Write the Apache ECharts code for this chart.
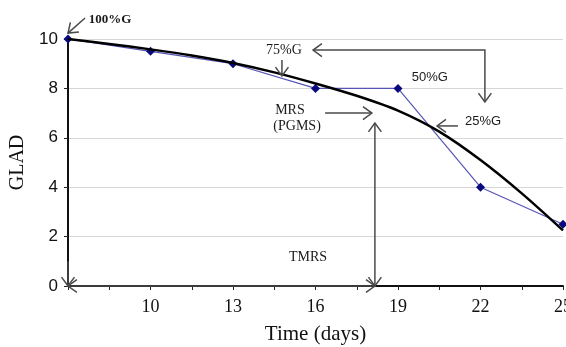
<!DOCTYPE html>
<html><head><meta charset="utf-8">
<script src="https://cdn.jsdelivr.net/npm/echarts@6/dist/echarts.min.js"></script>
<style>html,body{margin:0;padding:0;background:#fff}#c{width:566px;height:347px}</style>
</head><body><div id="c"></div>
<script>
// Observed GLAD values
const days = [7, 10, 13, 16, 19, 22, 25];
const glad = [10, 9.5, 9, 8, 8, 4, 2.5];
// Trend curve
const trendDays = [7, 8.5, 10, 11.5, 13, 14.5, 16, 17.5, 19, 20.5, 22, 23.5, 25];
const trendGlad = [10, 9.8, 9.58, 9.33, 9.03, 8.65, 8.2, 7.7, 7.1, 6.25, 5.1, 3.75, 2.25];
const xTickLabels = [10, 13, 16, 19, 22, 25];
const yTicks = [0, 2, 4, 6, 8, 10];

// Annotation arrows in data coordinates: polyline points, arrowhead at start / end
const arrows = [
  {pts: [[7.62, 10.85], [7.0, 10.24]], s: false, e: true},
  {pts: [[14.78, 9.15], [14.78, 8.5]], s: false, e: true},
  {pts: [[15.91, 9.55], [22.16, 9.55], [22.16, 7.45]], s: true, e: true},
  {pts: [[21.18, 6.48], [20.42, 6.48]], s: false, e: true},
  {pts: [[16.35, 7.0], [18.05, 7.0]], s: false, e: true},
  {pts: [[18.16, 0], [18.16, 6.6]], s: true, e: true},
  {pts: [[7, 0], [18.16, 0]], s: true, e: true},
  {pts: [[7, 1], [7, 0]], s: false, e: true}
];
const labels = [
  {t: '100%G', x: 7.75, y: 10.77, a: 'left', f: 'serifb'},
  {t: '75%G', x: 14.85, y: 9.55, a: 'center', f: 'serif'},
  {t: '50%G', x: 20.16, y: 8.46, a: 'center', f: 'sans'},
  {t: '25%G', x: 21.44, y: 6.68, a: 'left', f: 'sans'},
  {t: 'MRS', x: 15.07, y: 7.13, a: 'center', f: 'serif'},
  {t: '(PGMS)', x: 15.33, y: 6.48, a: 'center', f: 'serif'},
  {t: 'TMRS', x: 15.73, y: 1.17, a: 'center', f: 'serif'}
];

const chart = echarts.init(document.getElementById('c'));
const SERIF = '"Liberation Serif", "DejaVu Serif", serif';
const SANS = '"Liberation Sans", Arial, sans-serif';
const FONTS = {serif: '14px ' + SERIF, serifb: 'bold 13px ' + SERIF, sans: '13px ' + SANS};

function head(p, q, len) {
  const dx = p[0] - q[0], dy = p[1] - q[1];
  const L = Math.hypot(dx, dy) || 1;
  const ux = dx / L, uy = dy / L;
  const ang = Math.PI / 5;
  const c = Math.cos(ang), s = Math.sin(ang);
  const a1 = [p[0] - len * (ux * c - uy * s), p[1] - len * (uy * c + ux * s)];
  const a2 = [p[0] - len * (ux * c + uy * s), p[1] - len * (uy * c - ux * s)];
  return {type: 'polyline', shape: {points: [a1, p, a2]}, style: {stroke: '#4a4a4a', lineWidth: 1.5, fill: null}};
}

chart.setOption({
  animation: false,
  grid: {left: 68, right: 3, top: 39, bottom: 61, containLabel: false, outerBoundsMode: 'none'},
  xAxis: {
    type: 'value', min: 7, max: 25, interval: 1.5,
    name: 'Time (days)', nameLocation: 'middle', nameGap: 38,
    nameTextStyle: {fontFamily: SERIF, fontSize: 21, color: '#111'},
    axisLine: {show: true, lineStyle: {color: '#111', width: 2}},
    axisTick: {show: true, length: 4, lineStyle: {color: '#222', width: 1}},
    axisLabel: {
      fontFamily: SERIF, fontSize: 18, color: '#111', margin: 12, showMaxLabel: true,
      formatter: v => (xTickLabels.indexOf(Math.round(v * 100) / 100) >= 0 ? String(Math.round(v)) : '')
    },
    splitLine: {show: false}
  },
  yAxis: {
    type: 'value', min: yTicks[0], max: yTicks[yTicks.length - 1], interval: 2,
    name: 'GLAD', nameLocation: 'middle', nameGap: 40, nameRotate: 90,
    nameTextStyle: {fontFamily: SERIF, fontSize: 20, color: '#111'},
    axisLine: {show: true, lineStyle: {color: '#111', width: 2}},
    axisTick: {show: true, length: 4, lineStyle: {color: '#222', width: 1}},
    axisLabel: {fontFamily: SANS, fontSize: 17, color: '#111', margin: 10},
    splitLine: {show: true, lineStyle: {color: '#d6d6d6', width: 1}}
  },
  series: [
    {
      type: 'line', data: days.map((d, i) => [d, glad[i]]),
      symbol: 'diamond', symbolSize: 9,
      itemStyle: {color: '#0a0a80'},
      lineStyle: {color: '#5555b5', width: 1.2},
      z: 3
    },
    {
      type: 'line', data: trendDays.map((d, i) => [d, trendGlad[i]]),
      smooth: 0.3, showSymbol: false, symbol: 'none',
      lineStyle: {color: '#000', width: 2.5},
      z: 4
    },
    {
      type: 'custom', clip: false, z: 5,
      data: arrows.map((a, i) => [i]),
      renderItem: function (params, api) {
        const a = arrows[api.value(0)];
        const P = a.pts.map(p => api.coord(p));
        const children = [{type: 'polyline', shape: {points: P}, style: {stroke: '#4a4a4a', lineWidth: 1.5, fill: null}}];
        if (a.e) children.push(head(P[P.length - 1], P[P.length - 2], 11));
        if (a.s) children.push(head(P[0], P[1], 11));
        return {type: 'group', children: children};
      }
    },
    {
      type: 'custom', clip: false, z: 6,
      data: labels.map((l, i) => [i]),
      renderItem: function (params, api) {
        const l = labels[api.value(0)];
        const p = api.coord([l.x, l.y]);
        return {
          type: 'text', x: p[0], y: p[1],
          style: {text: l.t, fill: '#1a1a1a', align: l.a, verticalAlign: 'middle', font: FONTS[l.f]}
        };
      }
    }
  ]
});
</script></body></html>
